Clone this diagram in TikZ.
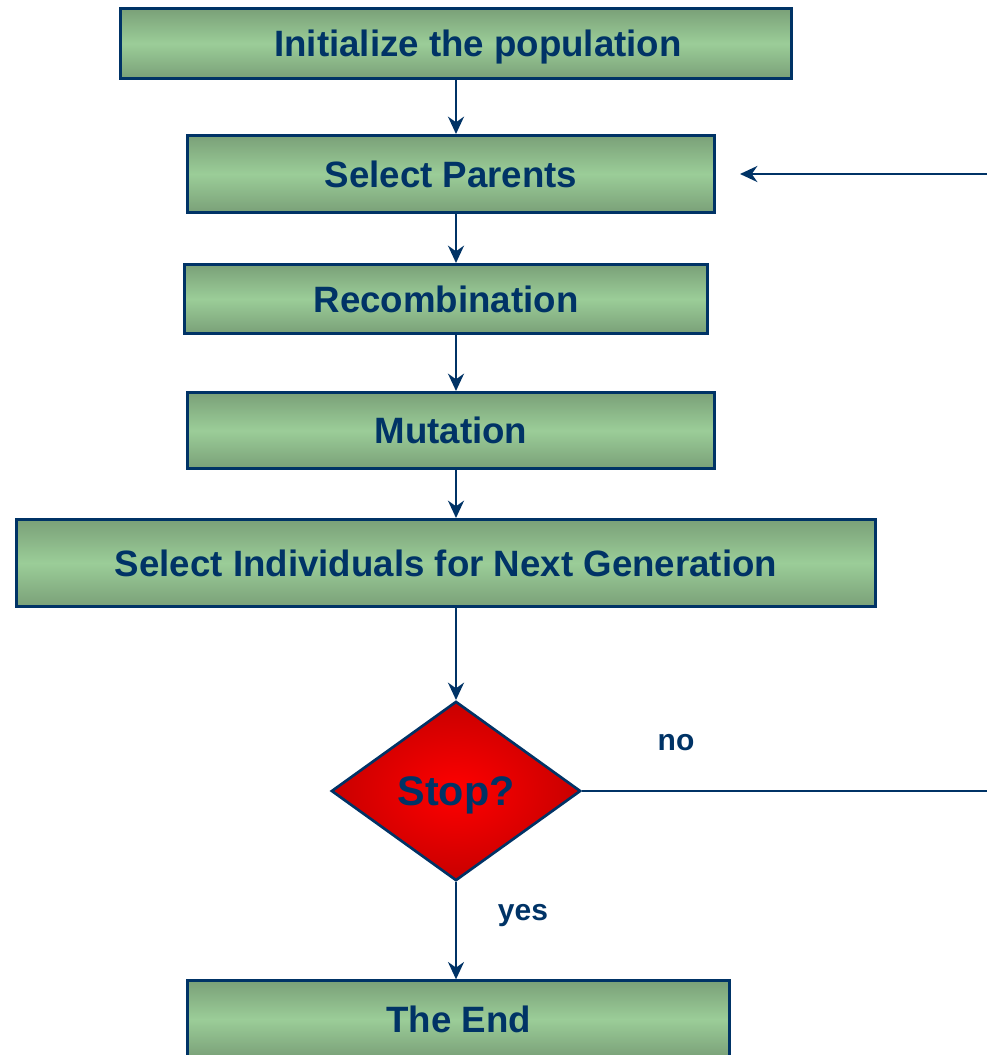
\documentclass[tikz,border=0pt]{standalone}
\usepackage{fontspec}
\setmainfont{Liberation Sans}
\usetikzlibrary{positioning,shapes.geometric,arrows.meta}

\definecolor{navy}{RGB}{0,51,102}
\definecolor{leaf}{RGB}{155,205,152}
\definecolor{leafdark}{RGB}{122,160,120}
\definecolor{stopred}{RGB}{255,0,0}
\definecolor{stopdark}{RGB}{200,0,0}

\begin{document}
\begin{tikzpicture}[x=0.75pt, y=-0.75pt,
    stage/.style={rectangle, draw=navy, line width=2pt, top color=leafdark, bottom color=leafdark, middle color=leaf, text=navy, font=\fontsize{27.5}{33}\selectfont\bfseries, inner sep=0pt},
    test/.style={diamond, draw=navy, line width=2pt, inner color=stopred, outer color=stopdark, text=navy, font=\fontsize{31}{37}\selectfont\bfseries, inner sep=0pt},
    flow/.style={draw=navy, line width=1.8pt, -{Stealth[length=13pt,width=12pt]}},
    answer/.style={text=navy, font=\fontsize{22.5}{27}\selectfont\bfseries}]
  \useasboundingbox (0,0) rectangle (987,1055);

  % the steps of one generation
  \node[stage, minimum width=503.5pt, minimum height=52.75pt, text depth=0pt] (init) at (456,43.5) {\hspace*{33pt}Initialize the population};
  \node[stage, below=40.5pt of init, xshift=-3.75pt, minimum width=395.5pt, minimum height=58pt] (parents) {Select Parents};
  \node[stage, below=36.75pt of parents, xshift=-3.75pt, minimum width=392.5pt, minimum height=52pt] (recomb) {Recombination};
  \node[stage, below=42pt of recomb, xshift=3.75pt, minimum width=395.5pt, minimum height=57.25pt] (mutate) {Mutation};
  \node[stage, below=36pt of mutate, xshift=-3.75pt, minimum width=644.5pt, minimum height=65.5pt] (survive) {Select Individuals for Next Generation};

  %The test and the way out
  \node[test, below=69pt of survive, xshift=7.5pt, minimum width=187pt, minimum height=134.5pt, text depth=0pt] (stop) {Stop?};
  \node[stage, below=73pt of stop, xshift=1.9pt, minimum width=406.75pt, minimum height=58pt] (theend) {The End};

  \node[answer] (no) at (676,743) {no};
  \node[answer] (yes) at (523,916) {yes};

  %Arrows down the chain
  \draw[flow] (init.south) -- (init.south |- parents.north);
  \draw[flow] (parents.south -| init) -- (recomb.north -| init);
  \draw[flow] (recomb.south -| init) -- (mutate.north -| init);
  \draw[flow] (mutate.south -| init) -- (survive.north -| init);
  \draw[flow] (survive.south -| init) -- (stop.north);
  \draw[flow] (stop.south) -- (stop.south |- theend.north);

  %Loop back, its far side is off the page
  \coordinate (loop) at (1000,0);
  \draw[flow] (stop.east) -- (stop.east -| loop) |- ([xshift=18pt]parents.east);
\end{tikzpicture}
\end{document}
